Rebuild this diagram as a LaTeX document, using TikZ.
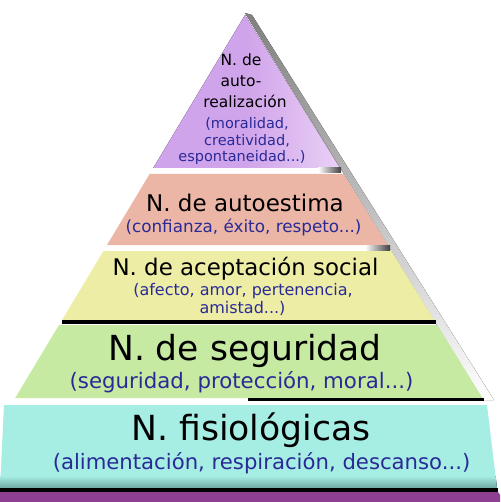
\documentclass[tikz,border=0pt]{standalone}
\usepackage{fontspec}
\setmainfont{DejaVu Sans}
\definecolor{lvl1}{HTML}{D0A4EA}
\definecolor{lvl1hi}{HTML}{EAD0F6}
\definecolor{lvl2}{HTML}{EBB6A6}
\definecolor{lvl3}{HTML}{EDEDA6}
\definecolor{lvl4}{HTML}{C6EAA2}
\definecolor{lvl5}{HTML}{A6EDE4}
\definecolor{lvl5dk}{HTML}{6FA8A2}
\definecolor{strip}{HTML}{8E3F92}
\definecolor{shade}{HTML}{B4B4B4}
\definecolor{subblue}{HTML}{2A2A96}
\tikzset{
  ttl/.style={anchor=base, text=black, inner sep=0pt},
  sub/.style={anchor=base, text=subblue, inner sep=0pt},
  gapline/.style={line width=3.6pt, draw=black},
}
\newcommand{\fsz}[1]{\fontsize{#1}{#1}\selectfont}
\begin{document}
\begin{tikzpicture}[x=1pt,y=-1pt]
\useasboundingbox (0,0) rectangle (500,502);
\begin{scope}
\clip (0,0) rectangle (500,502);
% shadow band along the right edge
\fill[shade] (245,13) -- (252,15) -- (494,400) -- (483,400) -- cycle;
% level 1 (triangle)
\fill[left color=lvl1, right color=lvl1hi, middle color=lvl1] (245,15) -- (339.9,168) -- (153.2,168) -- cycle;
\fill[left color=white, right color=black!75] (318,168) rectangle (341,173);
% level 2
\fill[lvl2] (149.6,174) -- (343.6,174) -- (387.6,245) -- (107,245) -- cycle;
\fill[left color=white, right color=black!75] (365,245) rectangle (390,251);
% level 3
\fill[lvl3] (103.4,251) -- (391.3,251) -- (434.1,320) -- (62,320) -- cycle;
\draw[gapline] (62,322) -- (436,322);
% level 4
\fill[lvl4] (59,325) -- (437.2,325) -- (482.5,398) -- (15.2,398) -- cycle;
\draw[gapline] (248,399.5) -- (484,399.5);
% level 5
\fill[lvl5] (4,405) -- (487,405) -- (497,488) -- (0,488) -- cycle;
\fill[top color=lvl5, bottom color=lvl5dk] (0,476) -- (495.6,476) -- (497,488) -- (0,488) -- cycle;
\draw[gapline] (0,490) -- (498,490);
\fill[strip] (0,492) -- (498,492) -- (500,495) -- (500,502) -- (0,502) -- cycle;
\end{scope}

% texts level 1
\node[ttl, font=\fsz{15.5}] (t1a) at (241,66) {N. de};
\node[ttl, font=\fsz{15.5}] (t1b) at (241,87) {auto-};
\node[ttl, font=\fsz{15.5}] (t1c) at (245,108) {realización};
\node[sub, font=\fsz{14.5}] (s1a) at (247,129) {(moralidad,};
\node[sub, font=\fsz{14.5}] (s1b) at (247,146) {creatividad,};
\node[sub, font=\fsz{14.5}] (s1c) at (242,162) {espontaneidad...)};
% level 2
\node[ttl, font=\fsz{23}] (t2) at (245,212) {N. de autoestima};
\node[sub, font=\fsz{16.8}] (s2) at (243.5,233) {(confianza, éxito, respeto...)};
% level 3
\node[ttl, font=\fsz{22.9}] (t3) at (245.5,275) {N. de aceptación social};
\node[sub, font=\fsz{16}] (s3a) at (243,295) {(afecto, amor, pertenencia,};
\node[sub, font=\fsz{16}] (s3b) at (242.5,313) {amistad...)};
% level 4
\node[ttl, font=\fsz{34.5}] (t4) at (245,360) {N. de seguridad};
\node[sub, font=\fsz{21.3}] (s4) at (241.5,388) {(seguridad, protección, moral...)};
% level 5
\node[ttl, font=\fsz{34.6}] (t5) at (251,440) {N. fisiológicas};
\node[sub, font=\fsz{21.2}] (s5) at (261.5,469) {(alimentación, respiración, descanso...)};
\end{tikzpicture}
\end{document}
